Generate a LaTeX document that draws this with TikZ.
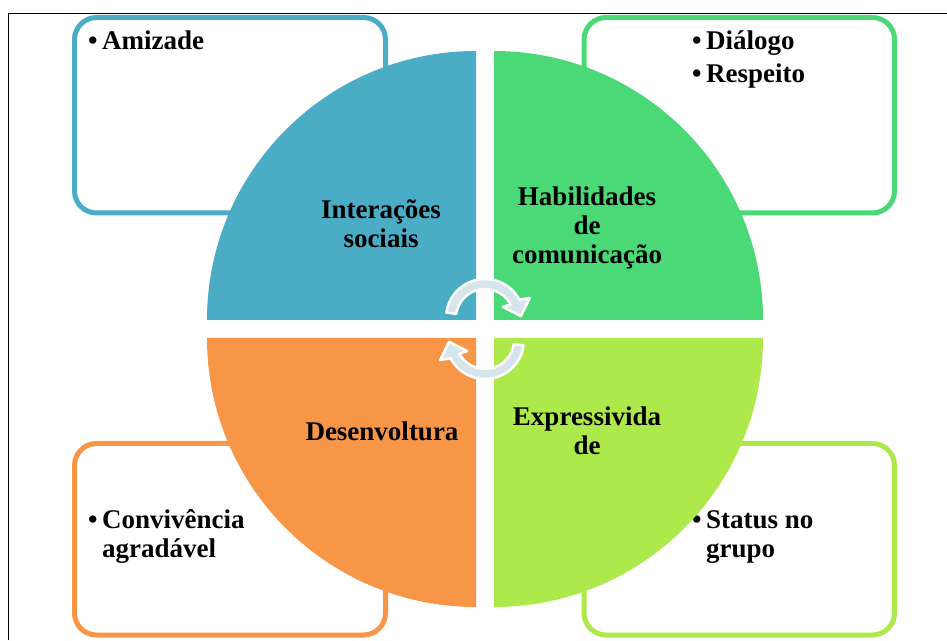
\documentclass[tikz,border=0pt]{standalone}
\usepackage{fontspec}
\setmainfont{Liberation Serif}
\definecolor{qblue}{RGB}{75,172,198}
\definecolor{qgreen}{RGB}{74,217,118}
\definecolor{qorange}{RGB}{247,150,70}
\definecolor{qlime}{RGB}{173,233,75}
\definecolor{arrowfill}{RGB}{214,228,236}
\newcommand{\toplines}[2]{\begin{tabular}[t]{@{}#1@{}}#2\end{tabular}}
\newcommand{\bul}{\makebox[14pt][l]{\textbullet}}
\begin{document}
\begin{tikzpicture}[x=1pt,y=1pt,
  outbox/.style={line width=5pt, rounded corners=22pt, fill=white},
  txt/.style={inner sep=0pt, font=\fontsize{27}{29}\selectfont\bfseries, anchor=base},
  txtw/.style={txt, anchor=base west},
  cyclearrow/.style={fill=arrowfill, draw=white, line width=2.5pt, line join=round}]
\useasboundingbox (0,0) rectangle (947,640);
% frame
\draw[line width=1.8pt] (8.5,0) -- (8.5,626.5) -- (947,626.5);
% outer boxes
\draw[outbox, draw=qblue]   (74.5,427) rectangle (385.5,622.5);
\draw[outbox, draw=qgreen]  (584,427) rectangle (894.5,622.5);
\draw[outbox, draw=qorange] (74.5,5) rectangle (385.5,196.5);
\draw[outbox, draw=qlime]   (584,5) rectangle (894.5,196.5);
% box texts
\node[txtw] (t1) at (88,590) {\toplines{l}{\bul Amizade}};
\node[txtw] (t2) at (692,590) {\toplines{l}{\bul Diálogo\\[4pt]\bul Respeito}};
\node[txtw] (t3) at (88,112) {\toplines{l}{\bul Convivência\\\hspace*{14pt}agradável}};
\node[txtw] (t4) at (692,112) {\toplines{l}{\bul Status no\\\hspace*{14pt}grupo}};
% quadrants
\fill[qblue]   (476,320) -- (207,320) arc[start angle=180, end angle=90, radius=269pt] -- cycle;
\fill[qgreen]  (494,320) -- (494,589) arc[start angle=90, end angle=0, radius=269pt] -- cycle;
\fill[qorange] (476,302) -- (476,33) arc[start angle=270, end angle=180, radius=269pt] -- cycle;
\fill[qlime]   (494,302) -- (763,302) arc[start angle=0, end angle=-90, radius=269pt] -- cycle;
% quadrant texts
\node[txt] (q1) at (381,421) {\toplines{c}{Interações\\sociais}};
\node[txt] (q2) at (587,434) {\toplines{c}{Habilidades\\de\\comunicação}};
\node[txt] (q3) at (382,199) {\toplines{c}{Desenvoltura}};
\node[txt] (q4) at (587,214) {\toplines{c}{Expressivida\\de}};
% cycle arrows
\begin{scope}[shift={(485,322)}]
\path[cyclearrow] (172:39pt) arc[start angle=172, end angle=28, radius=39pt]
  -- (24:49pt) -- (3:36pt) -- (32:21pt) -- (28:29pt)
  arc[start angle=28, end angle=172, radius=29pt] -- cycle;
\end{scope}
\begin{scope}[rotate around={180:(485,311)}]
\begin{scope}[shift={(485,322)}]
\path[cyclearrow] (172:39pt) arc[start angle=172, end angle=28, radius=39pt]
  -- (24:49pt) -- (3:36pt) -- (32:21pt) -- (28:29pt)
  arc[start angle=28, end angle=172, radius=29pt] -- cycle;
\end{scope}
\end{scope}
\end{tikzpicture}
\end{document}
